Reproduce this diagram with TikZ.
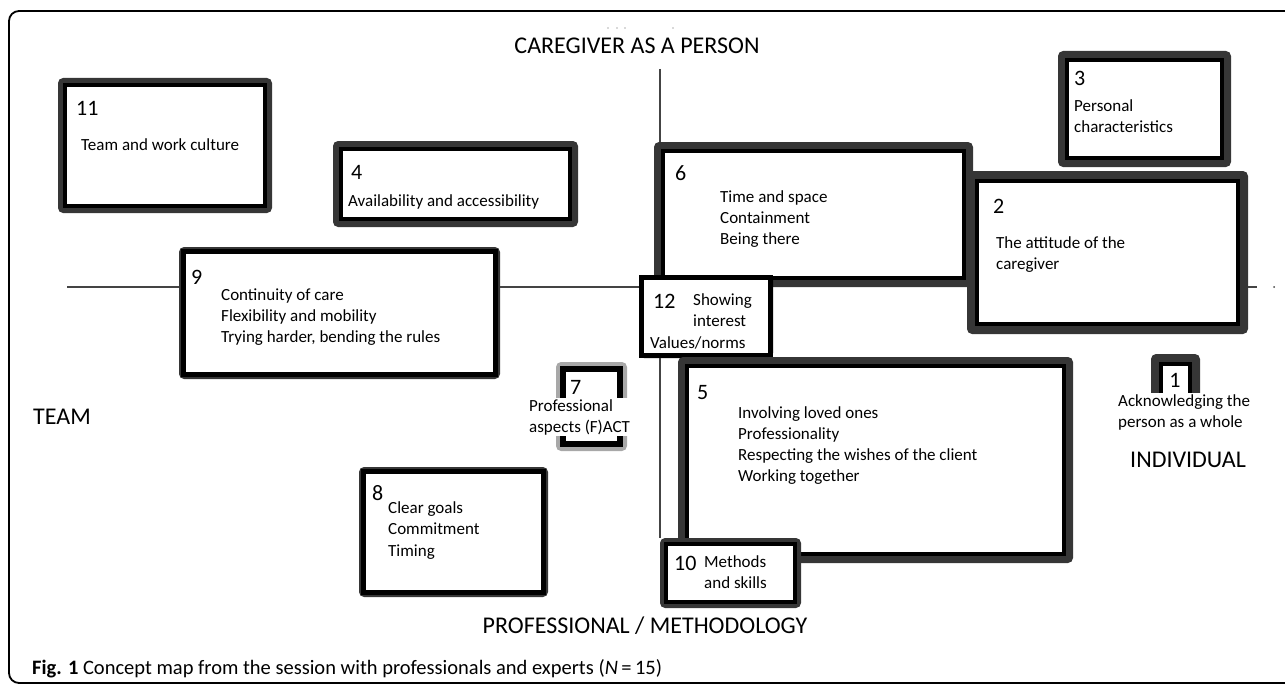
\documentclass[tikz,border=0pt]{standalone}
\usepackage{fontspec}
\setmainfont{Carlito}
\usetikzlibrary{calc}

\definecolor{bandgray}{HTML}{363636}
\definecolor{lightband}{HTML}{A8A8A8}
\definecolor{axisgray}{HTML}{444444}

\tikzset{
  num/.style={anchor=base west, inner sep=0pt, font=\fontsize{22}{26}\selectfont},
  item/.style={anchor=base west, inner sep=0pt, font=\fontsize{17}{21}\selectfont},
  axislabel/.style={anchor=base, inner sep=0pt, font=\fontsize{24}{28}\selectfont},
  axisline/.style={draw=axisgray, line width=1.4pt},
}

% name, x1, y1, x2, y2 (outer edge), border, black part, band colour
\newcommand\mapbox[8]{%
  \fill[#8, rounded corners=5pt] (#2,#3) rectangle (#4,#5);
  \pgfmathsetmacro\mbsep{#6-#7/2}
  \node[draw=black, fill=white, line width=#7pt, inner sep=0pt, outer sep=\mbsep pt,
        minimum width={#4-#2-2*\mbsep}, minimum height={#5-#3-2*\mbsep}]
       (#1) at ({(#2+#4)/2},{(#3+#5)/2}) {};
}

% name, x, first baseline, spacing, lines
\newcommand\itemlines[5]{%
  \foreach \itemtext [count=\k] in {#5}
    \node[item] (#1-\k) at (#2,{#3+#4*(\k-1)}) {\itemtext};
}

\begin{document}
\begin{tikzpicture}[x=1pt, y=-1pt]
\useasboundingbox (0,0) rectangle (1285,685);
\clip (0,0) rectangle (1285,685);
\draw[line width=1.8pt, rounded corners=10pt] (1300,11) -- (9,11) -- (9,683) -- (1300,683);

\foreach \x in {608,617,625,673}
  \fill[black!30] (\x,28) circle (0.8);

\mapbox{b11}{58}{78}{272}{213}{9}{4}{bandgray}
\mapbox{b4}{333}{141}{578}{227}{10}{4}{bandgray}
\mapbox{b9}{179}{247}{500}{379}{7}{5}{bandgray}
\mapbox{b6}{654}{142}{973}{287}{11}{4}{bandgray}
\mapbox{b2}{967}{171}{1248}{334}{12}{4}{bandgray}
\mapbox{b3}{1058}{51}{1231}{167}{11}{4}{bandgray}
\mapbox{b12}{639}{275}{773}{358}{5}{5}{black}
\mapbox{b5}{678}{357}{1073}{563}{11}{4}{bandgray}
\mapbox{b10}{660}{538}{801}{608}{8}{4}{bandgray}
\mapbox{b8}{359}{467}{548}{597}{7}{5}{bandgray}
\mapbox{b7}{556}{362}{627}{451}{10}{6}{lightband}
\mapbox{b1}{1151}{354}{1200}{405}{12}{4}{bandgray}

\coordinate (axT) at (660,69);
\coordinate (axL) at (67,287);
\coordinate (axR) at (1257,287);
\draw[axisline] (axL) -- (axL -| b9.west);
\draw[axisline] (b9.east |- axL) -- (b12.west |- axL);
\draw[axisline] (b2.east |- axR) -- (axR);
\draw[axisline] (axT) -- (axT |- b6.north);
\draw[axisline] (axT |- b12.south) -- (axT |- b10.north);
\fill[axisgray] (1274,287) circle (1);

\node[num] (n11) at (76,115) {11};
\node[num] (n4) at (351,179) {4};
\node[num] (n9) at (191,284) {9};
\node[num] (n6) at (675,180) {6};
\node[num] (n3) at (1074,85) {3};
\node[num] (n2) at (993,213) {2};
\node[num] (n12) at (653,308) {12};
\node[num] (n5) at (697,399) {5};
\node[num] (n10) at (674,570) {10};
\node[num] (n8) at (372,500) {8};
\node[num] (n7) at (570,394) {7};
\node[num, anchor=base] (n1) at (1175,387) {1};

\itemlines{t11}{81}{150}{21}{Team and work culture}
\itemlines{t4}{348}{206}{21}{Availability and accessibility}
\itemlines{t9}{221}{300}{21}{Continuity of care, Flexibility and mobility, {Trying harder, bending the rules}}
\itemlines{t6}{720}{202}{21}{Time and space, Containment, Being there}
\itemlines{t3}{1074}{111}{21}{Personal, characteristics}
\itemlines{t2}{996}{248}{21}{The attitude of the, caregiver}
\itemlines{t12}{693}{305}{21}{Showing, interest}
\node[item] (t12-3) at (650,348) {Values/norms};
\itemlines{t5}{738}{418}{21.3}{Involving loved ones, Professionality, Respecting the wishes of the client, Working together}
\itemlines{t10}{704}{567}{21}{Methods, and skills}
\itemlines{t8}{388}{513}{21.5}{Clear goals, Commitment, Timing}

\node[item, anchor=north west, align=left, fill=white, inner sep=1pt] (t7) at (528,398) {Professional\\aspects (F)ACT};
\node[item, anchor=north west, align=left, fill=white, inner sep=1pt] (t1) at (1117,393) {Acknowledging the\\person as a whole};

\node[axislabel] (top) at (637,54) {CAREGIVER AS A PERSON};
\node[axislabel, anchor=base west] (left) at (33,424) {TEAM};
\node[axislabel, anchor=base west] (right) at (1130,467) {INDIVIDUAL};
\node[axislabel] (bottom) at (645,633) {PROFESSIONAL / METHODOLOGY};

\node[anchor=base west, inner sep=0pt, font=\fontsize{20.5}{24}\selectfont] (cap) at (32,674)
  {\textbf{Fig. 1} Concept map from the session with professionals and experts (\textit{N}\,=\,15)};
\end{tikzpicture}
\end{document}
